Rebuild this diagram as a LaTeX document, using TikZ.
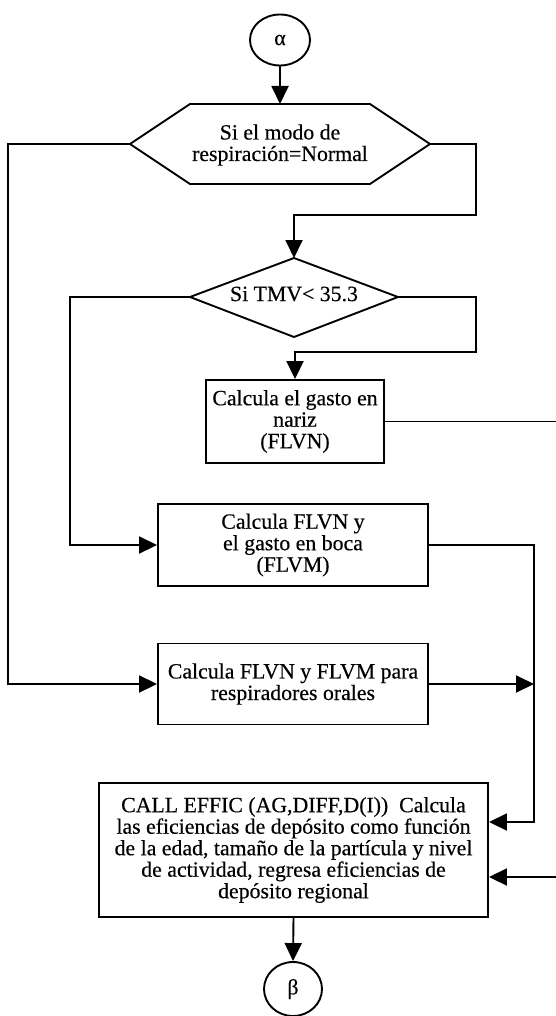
\documentclass[tikz,border=0pt]{standalone}
\usepackage{fontspec}
\setmainfont{Liberation Serif}[FakeBold=0.35]
\usetikzlibrary{arrows.meta,shapes.geometric,calc}
\begin{document}
\begin{tikzpicture}[x=1pt,y=-1pt,line width=1.9pt,
  lbl/.style={font=\fontsize{21.8}{21.5}\selectfont},
  flow/.style={-{Triangle[length=18pt,width=17pt]}},
  box/.style={draw,rectangle,align=center,inner sep=0pt,lbl},
  txt/.style={align=center,inner sep=0pt,lbl},
  term/.style={draw,ellipse,inner sep=0pt,lbl}]
\useasboundingbox (0,0) rectangle (555,1016);

% connector terminals
\node[term,minimum width=60pt,minimum height=51pt] (alpha) at (280,40) {α};
\node[term,minimum width=58pt,minimum height=54pt] (beta) at (293,989) {β};

% breathing-mode decision (hexagon)
\node[txt] (mode) at (280,145) {Si el modo de\\respiración=Normal};
\coordinate (modeW)  at (130,144);
\coordinate (modeNW) at (190,104);
\coordinate (modeN)  at (280,104);
\coordinate (modeNE) at (370,104);
\coordinate (modeE)  at (430,144);
\coordinate (modeSE) at (370,184);
\coordinate (modeSW) at (190,184);
\draw (modeW) -- (modeNW) -- (modeNE) -- (modeE) -- (modeSE) -- (modeSW) -- cycle;

% minute-volume decision (diamond)
\node[txt] (tmv) at (294,294) {Si TMV< 35.3};
\coordinate (tmvN) at (294,258);
\coordinate (tmvW) at (190,297);
\coordinate (tmvE) at (398,297);
\coordinate (tmvS) at (294,337);
\draw (tmvN) -- (tmvE) -- (tmvS) -- (tmvW) -- cycle;

% process boxes
\node[box,minimum width=178pt,minimum height=83pt] (nose) at (295,421.5)
  {Calcula el gasto en\\nariz\\(FLVN)};
\node[box,minimum width=270pt,minimum height=82pt] (both) at (293,545)
  {Calcula FLVN y\\el gasto en boca\\(FLVM)};
\node[box,minimum width=270pt,minimum height=81pt] (oral) at (293,684)
  {Calcula FLVN y FLVM para\\respiradores orales};
\node[box,minimum width=389pt,minimum height=134pt] (effic) at (293.5,850)
  {CALL EFFIC (AG,DIFF,D(I))~~Calcula\\las eficiencias de depósito como función\\de la edad, tamaño de la partícula y nivel\\de actividad, regresa eficiencias de\\depósito regional};

% routing rails and levels
\coordinate (railA) at (8,0);
\coordinate (railB) at (70,0);
\coordinate (railC) at (476,0);
\coordinate (railD) at (534,0);
\coordinate (railE) at (575,0);
\coordinate (jog1) at (0,215);
\coordinate (jog2) at (0,352);
\coordinate (in1) at (0,822);
\coordinate (in2) at (0,877);

% connectors
\draw[flow] (alpha.south) -- (modeN);
\draw[flow] (modeE) -| (railC |- jog1) -| (tmvN);
\draw[flow] (modeW) -| (railA |- oral.west) -- (oral.west);
\draw[flow] (tmvE) -| (railC |- jog2) -| (nose.north);
\draw[flow] (tmvW) -| (railB |- both.west) -- (both.west);
\draw[flow] (nose.east) -- (railE |- nose.east) -- (railE |- in2) -- (effic.east |- in2);
\draw[flow] (both.east) -| (railD |- in1) -- (effic.east |- in1);
\draw[flow] (oral.east) -- (railD |- oral.east);
\draw[flow] (effic.south) -- (beta.north);
\end{tikzpicture}
\end{document}
